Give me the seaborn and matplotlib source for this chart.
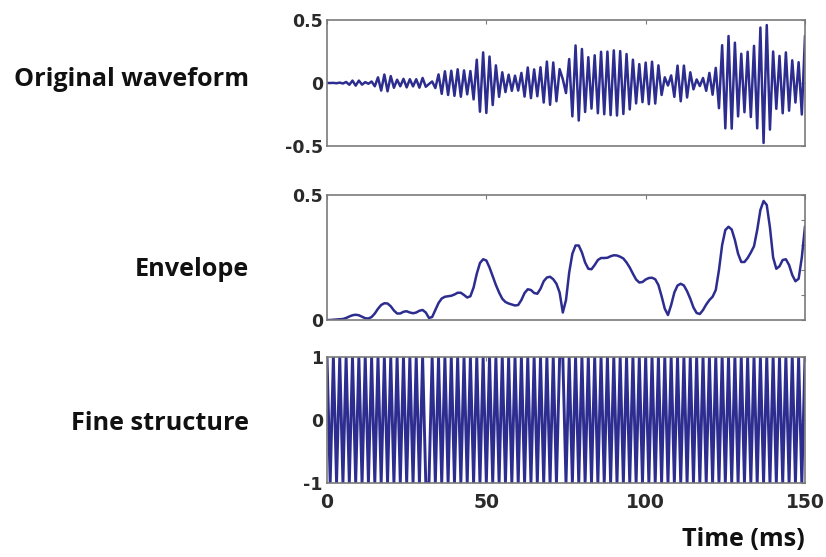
import numpy as np
import pandas as pd
import matplotlib
matplotlib.use("Agg")
import matplotlib.pyplot as plt
import seaborn as sns
from matplotlib.ticker import FixedLocator, MultipleLocator

# ---- data -------------------------------------------------------------
time_ms = np.arange(0, 151)  # 1 ms steps, 0..150 ms

# Hilbert envelope of the signal, one value per millisecond
envelope = [
    0.000, 0.000, 0.001, 0.002, 0.003, 0.004, 0.008, 0.014, 0.019, 0.021,
    0.019, 0.013, 0.007, 0.006, 0.012, 0.026, 0.045, 0.060, 0.067, 0.066,
    0.055, 0.038, 0.026, 0.026, 0.033, 0.035, 0.030, 0.027, 0.030, 0.037,
    0.040, 0.030, 0.008, 0.012, 0.040, 0.068, 0.086, 0.093, 0.095, 0.097,
    0.102, 0.109, 0.109, 0.100, 0.090, 0.095, 0.130, 0.185, 0.228, 0.243,
    0.238, 0.210, 0.175, 0.140, 0.110, 0.085, 0.072, 0.066, 0.062, 0.058,
    0.060, 0.080, 0.108, 0.123, 0.120, 0.108, 0.105, 0.125, 0.155, 0.170,
    0.173, 0.163, 0.145, 0.110, 0.030, 0.080, 0.190, 0.265, 0.298, 0.298,
    0.270, 0.230, 0.205, 0.203, 0.220, 0.240, 0.248, 0.248, 0.249, 0.255,
    0.259, 0.258, 0.253, 0.246, 0.230, 0.210, 0.185, 0.162, 0.150, 0.152,
    0.162, 0.168, 0.169, 0.163, 0.140, 0.095, 0.045, 0.020, 0.060, 0.110,
    0.138, 0.145, 0.138, 0.115, 0.085, 0.050, 0.028, 0.024, 0.040, 0.062,
    0.080, 0.093, 0.120, 0.200, 0.300, 0.360, 0.373, 0.362, 0.320, 0.265,
    0.232, 0.232, 0.248, 0.270, 0.295, 0.360, 0.440, 0.476, 0.460, 0.370,
    0.250, 0.205, 0.215, 0.240, 0.243, 0.220, 0.180, 0.155, 0.165, 0.250,
    0.375,
]

# carrier: an extremum every 1 ms, with half-cycle phase jumps where the envelope vanishes
carrier_half_period_ms = 1
phase_jump_ms = [32, 74]

row_labels = ["Original waveform", "Envelope", "Fine structure"]
xtick_values = [0, 50, 100, 150]
ytick_values = [[-0.5, 0, 0.5], [0, 0.5], [-1, 0, 1]]
ytick_labels = [["-0.5", "0", "0.5"], ["0", "0.5"], ["-1", "0", "1"]]
ylims = [(-0.5, 0.5), (0, 0.5), (-1, 1)]
xlabel = "Time (ms)"

# ---- derived series ---------------------------------------------------
env = np.asarray(envelope)
step = carrier_half_period_ms
t_ext = time_ms[::step]
jumps = np.searchsorted(phase_jump_ms, t_ext, side="right")
fine_structure = np.where((np.arange(len(t_ext)) + jumps) % 2 == 0, 1.0, -1.0)
original = env[::step] * fine_structure

frames = [
    pd.DataFrame({"t": t_ext, "y": original}),
    pd.DataFrame({"t": time_ms, "y": env}),
    pd.DataFrame({"t": t_ext, "y": fine_structure}),
]

# ---- figure -----------------------------------------------------------
sns.set_style("white")
plt.rcParams["font.family"] = ["DejaVu Sans"]

W, H = 826, 557
fig = plt.figure(figsize=(W / 100, H / 100), dpi=100)

# axes boxes in pixels: (left, top, right, bottom)
boxes = [(327, 20, 805, 146), (327, 195, 805, 320), (327, 357, 805, 483)]
label_y = [80, 270, 423]
line_color = "#2d2d90"
frame_color = "#7a7a7a"
widths = [1.8, 1.8, 2.1]
label_font = ["Open Sans", "DejaVu Sans"]

for i, (box, df) in enumerate(zip(boxes, frames)):
    l, t, r, b = box
    ax = fig.add_axes([l / W, 1 - b / H, (r - l) / W, (b - t) / H])
    sns.lineplot(data=df, x="t", y="y", ax=ax, color=line_color,
                 linewidth=widths[i], estimator=None, sort=False)
    ax.set_xlim(0, 150)
    ax.set_ylim(*ylims[i])
    ax.set_xlabel("")
    ax.set_ylabel("")
    ax.xaxis.set_major_locator(FixedLocator(xtick_values))
    ax.yaxis.set_major_locator(FixedLocator(ytick_values[i]))
    ax.set_yticklabels(ytick_labels[i])
    if i == 1:
        ax.yaxis.set_minor_locator(MultipleLocator(0.1))
    if i < 2:
        ax.set_xticklabels([])
    else:
        ax.set_xticklabels([str(v) for v in xtick_values])
    for sp in ax.spines.values():
        sp.set_visible(True)
        sp.set_color(frame_color)
        sp.set_linewidth(1.2)
    ax.tick_params(axis="both", which="both", direction="in", top=True, right=True,
                   color=frame_color, length=3, width=0.8, labelcolor="#2a2a2a")
    ax.tick_params(axis="y", labelsize=12.5, pad=3)
    ax.tick_params(axis="x", labelsize=13.5, pad=7)
    for lab in ax.get_xticklabels() + ax.get_yticklabels():
        lab.set_fontweight("bold")

    fig.text(249 / W, 1 - label_y[i] / H, row_labels[i], ha="right", va="center",
             fontsize=18.2, fontweight="bold", family=label_font, color="#111111")

fig.text(805 / W, 1 - 540 / H, xlabel, ha="right", va="center",
         fontsize=18.2, fontweight="bold", family=label_font, color="#111111")

fig.savefig("out.png", dpi=100)
